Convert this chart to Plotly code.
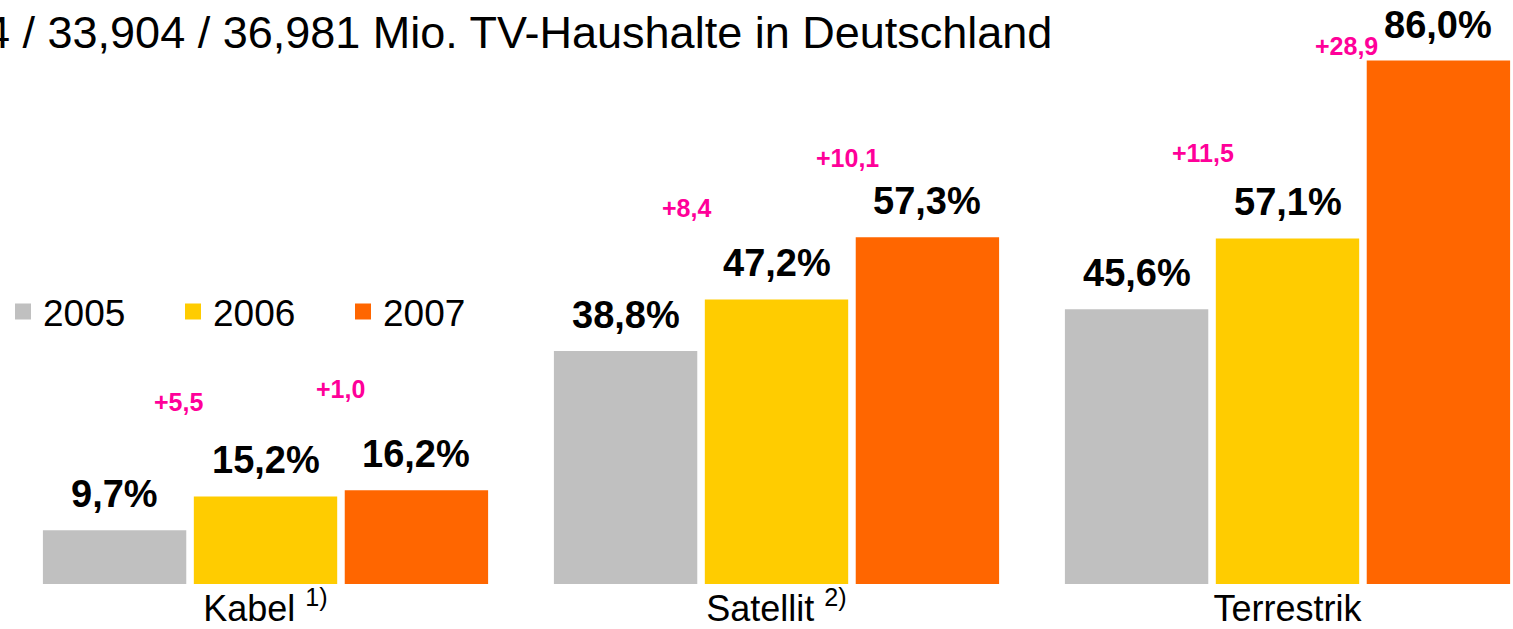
import plotly.graph_objects as go

categories = ["Kabel <sup>1)</sup>", "Satellit <sup>2)</sup>", "Terrestrik"]
years = ["2005", "2006", "2007"]
values_2005 = [9.7, 38.8, 45.6]
values_2006 = [15.2, 47.2, 57.1]
values_2007 = [16.2, 57.3, 86.0]
title_text = "4 / 33,904 / 36,981 Mio. TV-Haushalte in Deutschland"

series = [values_2005, values_2006, values_2007]
colors = ["#C0C0C0", "#FFCC00", "#FF6600"]
FONT = "Liberation Sans, Arial, sans-serif"

bargap = 0.114
bargroupgap = 0.05
n = len(series)
slot = (1 - bargap) / n
barw = slot * (1 - bargroupgap)
xs = list(range(len(categories)))

fig = go.Figure()
for i, (yr, vals) in enumerate(zip(years, series)):
    fig.add_trace(go.Bar(x=xs, y=vals, name=yr, marker=dict(color=colors[i], line=dict(width=0)),
                         showlegend=False, hoverinfo="skip"))
    # legend proxies
    fig.add_trace(go.Scatter(x=[None], y=[None], mode="markers", name=yr, hoverinfo="skip",
                             marker=dict(symbol="square", size=16, color=colors[i])))

annotations = []
def fmt(v, dec=1):
    return f"{v:.{dec}f}".replace(".", ",")

# value labels
for i, vals in enumerate(series):
    off = (i - (n - 1) / 2) * slot
    for c, v in enumerate(vals):
        annotations.append(dict(x=c + off, y=v, xref="x", yref="y", text=f"<b>{fmt(v)}%</b>",
                                showarrow=False, yshift=36, yanchor="middle", xanchor="center",
                                font=dict(family=FONT, size=38, color="black")))

# delta labels (pixel offsets relative to the later bar's top-left corner)
delta_xshift = [[-15, -18, -13], [-4, -8, -20]]
delta_yshift = [[94, 91, 85], [101, 79, 15]]
for i in range(1, n):
    off = (i - (n - 1) / 2) * slot
    for c in range(len(categories)):
        d = series[i][c] - series[i - 1][c]
        annotations.append(dict(x=c + off - barw / 2, y=series[i][c], xref="x", yref="y",
                                text=f"<b>+{fmt(d)}</b>", showarrow=False,
                                xshift=delta_xshift[i - 1][c], yshift=delta_yshift[i - 1][c],
                                xanchor="center", yanchor="middle",
                                font=dict(family=FONT, size=25, color="#FF0099")))

# title
annotations.append(dict(x=-0.011, y=1.0, xref="paper", yref="paper", text=title_text,
                        showarrow=False, xanchor="left", yanchor="middle", yshift=-25,
                        font=dict(family=FONT, size=45, color="black")))

fig.update_layout(
    width=1513, height=629,
    margin=dict(l=0, r=0, t=7, b=42),
    paper_bgcolor="white", plot_bgcolor="white",
    barmode="group", bargap=bargap, bargroupgap=bargroupgap,
    xaxis=dict(range=[-0.5196, 2.4413], tickvals=xs, ticktext=categories, showgrid=False,
               zeroline=False, showline=False, ticks="",
               tickfont=dict(family=FONT, size=36, color="black")),
    yaxis=dict(range=[0.97, 94.7], visible=False, showgrid=False, zeroline=False),
    legend=dict(orientation="h", x=0.002, y=0.4715, xanchor="left", yanchor="middle",
                entrywidth=125, font=dict(family=FONT, size=37, color="black"),
                bgcolor="rgba(0,0,0,0)", itemclick=False, itemdoubleclick=False),
    annotations=annotations,
    showlegend=True,
    hovermode=False,
)

fig.write_html("out.html", config=dict(displayModeBar=False),
               post_script="document.body.style.margin='0';document.body.style.overflow='hidden';")
